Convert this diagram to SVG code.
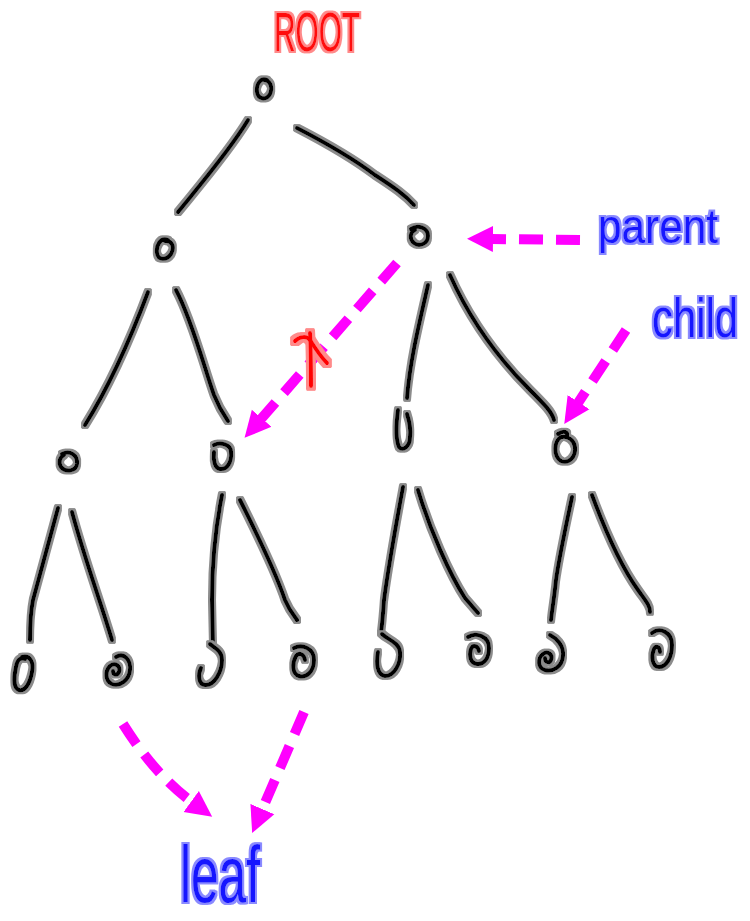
<svg xmlns="http://www.w3.org/2000/svg" width="750" height="921" viewBox="0 0 750 921">
<defs>
<style>
.ink{fill:none;stroke:#000;stroke-width:4;stroke-linecap:round;stroke-linejoin:round}
.dash{fill:none;stroke:#ff00ff;stroke-width:10;stroke-dasharray:24 13;stroke-linecap:butt}
.red{fill:none;stroke:#ff0000;stroke-width:4;stroke-linecap:round;stroke-linejoin:round}
.lbl{font-family:"Liberation Sans","DejaVu Sans",sans-serif}
.blue{fill:#1414ff}
.rtxt{fill:#ff1010}
</style>
<filter id="hk" filterUnits="userSpaceOnUse" x="0" y="0" width="750" height="921">
<feMorphology in="SourceAlpha" operator="dilate" radius="2" result="d"/>
<feGaussianBlur in="d" stdDeviation="0.7" result="b"/>
<feFlood flood-color="#8c8c8c"/>
<feComposite in2="b" operator="in"/>
<feMerge><feMergeNode/><feMergeNode in="SourceGraphic"/></feMerge>
</filter>
<filter id="hr" filterUnits="userSpaceOnUse" x="0" y="0" width="750" height="921">
<feMorphology in="SourceAlpha" operator="dilate" radius="2.5" result="d"/>
<feGaussianBlur in="d" stdDeviation="0.7" result="b"/>
<feFlood flood-color="#ff8a8a"/>
<feComposite in2="b" operator="in"/>
<feMerge><feMergeNode/><feMergeNode in="SourceGraphic"/></feMerge>
</filter>
<filter id="hrt" filterUnits="userSpaceOnUse" x="0" y="0" width="750" height="921">
<feMorphology in="SourceAlpha" operator="dilate" radius="1.5" result="d"/>
<feGaussianBlur in="d" stdDeviation="0.6" result="b"/>
<feFlood flood-color="#ff8a8a"/>
<feComposite in2="b" operator="in"/>
<feMerge><feMergeNode/><feMergeNode in="SourceGraphic"/></feMerge>
</filter>
<filter id="hb" filterUnits="userSpaceOnUse" x="0" y="0" width="750" height="921">
<feMorphology in="SourceAlpha" operator="dilate" radius="1.5" result="d"/>
<feGaussianBlur in="d" stdDeviation="0.6" result="b"/>
<feFlood flood-color="#8a8aff"/>
<feComposite in2="b" operator="in"/>
<feMerge><feMergeNode/><feMergeNode in="SourceGraphic"/></feMerge>
</filter>
<marker id="ah" markerUnits="userSpaceOnUse" markerWidth="28" markerHeight="28" viewBox="0 -14 28 28" refX="1" refY="0" orient="auto">
<path d="M0,-13 L26,0 L0,13 Z" fill="#ff00ff"/>
</marker>
</defs>
<rect width="750" height="921" fill="#fff"/>

<g id="edges" class="ink" filter="url(#hk)">
<path d="M248,120 C230,150 200,185 178,212"/>
<path d="M297,128 C330,145 355,160 375,175 C395,188 405,195 414,205"/>
<path d="M148,292 C130,340 110,385 85,425"/>
<path d="M176,290 C192,320 205,370 214,395 C220,410 226,418 228,421"/>
<path d="M428,285 C420,320 410,360 407,398"/>
<path d="M450,275 C470,320 500,360 530,390 C545,405 552,412 554,420"/>
<path d="M58,508 C48,545 40,575 33,600 C30,615 30,630 30,640"/>
<path d="M72,512 C85,560 100,600 112,640"/>
<path d="M222,495 C215,530 212,560 212,600 L213,645"/>
<path d="M240,500 C255,530 275,570 285,600 C290,612 296,618 297,620"/>
<path d="M403,487 C395,530 388,570 384,600 C383,615 382,625 381,633"/>
<path d="M418,490 C430,530 450,575 465,598 L478,613"/>
<path d="M572,497 C565,530 558,565 556,580 C554,600 552,610 551,620"/>
<path d="M592,495 C605,530 620,565 638,590 C645,600 650,605 650,612"/>
</g>

<g class="ink" filter="url(#hk)">
<g id="root"><path d="M267,80 C261,77 256,84 257,92 C258,99 266,101 270,94 C273,87 270,80 264,80"/></g>
<g id="n1"><path d="M168,240 C160,237 156,246 157,253 C158,260 166,261 171,254 C175,247 172,240 165,241"/></g>
<g id="n2"><path d="M411,229 C418,224 428,228 428,236 C428,244 419,247 414,243 C409,239 410,232 415,230"/></g>
<g id="n3"><path d="M62,454 C70,450 78,455 77,464 C76,471 66,473 61,467 C58,462 60,457 64,455"/></g>
<g id="n4"><path d="M214,445 C220,442 231,444 231,452 C232,462 227,470 220,469 C215,468 213,461 214,452"/></g>
<g id="n5"><path d="M398,410 C396,425 396,440 399,447 C403,452 410,446 410,437 C411,428 409,420 407,414"/></g>
<g id="n6"><path d="M558,434 C564,430 568,432 567,436 M561,437 C554,441 553,456 561,461 C569,464 576,457 575,447 C574,440 568,436 562,437"/></g>
<g id="l1"><path d="M22,657 C30,655 34,662 32,672 C30,683 25,692 19,690 C13,688 14,676 16,667 C17,660 20,657 25,659"/></g>
<g id="l2"><path d="M116,657 C124,652 131,660 130,670 C129,680 120,687 112,684 C105,681 105,671 110,666 C115,662 121,666 119,672 C117,676 113,675 113,671"/></g>
<g id="l3"><path d="M210,644 C214,648 222,650 222,660 C222,672 214,686 205,685 C198,684 198,674 201,668"/></g>
<g id="l4"><path d="M294,648 C302,644 314,648 314,660 C314,672 306,678 299,676 C292,674 292,663 296,656 C299,652 304,654 305,660"/></g>
<g id="l5"><path d="M382,634 C388,640 399,642 400,652 C401,664 394,676 385,676 C377,675 376,663 378,652"/></g>
<g id="l6"><path d="M468,637 C476,632 489,636 489,648 C489,658 484,665 477,664 C470,663 469,655 471,649 C473,644 478,646 479,651"/></g>
<g id="l7"><path d="M550,635 C556,638 564,645 563,656 C562,667 553,672 545,670 C538,668 537,659 543,654 C548,650 553,655 551,660 C549,664 545,662 545,658"/></g>
<g id="l8"><path d="M652,633 C660,627 672,632 672,645 C672,658 666,667 659,667 C652,667 651,656 654,649 C656,645 660,647 660,652"/></g>
</g>

<g id="arrows">
<path class="dash" d="M580,240 L492,239" marker-end="url(#ah)"/>
<path class="dash" d="M626,330 L578,403" marker-end="url(#ah)"/>
<path class="dash" d="M397,263 L261,419" marker-end="url(#ah)"/>
<path class="dash" d="M123,724 Q155,775 192,802" marker-end="url(#ah)"/>
<path class="dash" d="M304,712 L262,810" marker-end="url(#ah)"/>
</g>

<g id="cross" class="red" filter="url(#hr)">
<path d="M295,341 C300,336 307,336 310,340 C315,348 320,356 327,363"/>
<path d="M310,333 C311,350 311,368 311,386"/>
</g>

<g id="labels">
<g filter="url(#hrt)">
<text class="lbl rtxt" transform="translate(274,51) scale(1,1.2)" font-size="46" textLength="86" lengthAdjust="spacingAndGlyphs">ROOT</text>
</g>
<g filter="url(#hb)">
<text class="lbl blue" x="598" y="243" font-size="48" textLength="120" lengthAdjust="spacingAndGlyphs">parent</text>
<text class="lbl blue" transform="translate(652,337) scale(1,1.15)" font-size="48" textLength="86" lengthAdjust="spacingAndGlyphs">child</text>
<text class="lbl blue" transform="translate(180,902) scale(1,1.25)" font-size="64" textLength="80" lengthAdjust="spacingAndGlyphs">leaf</text>
</g>
</g>
</svg>
